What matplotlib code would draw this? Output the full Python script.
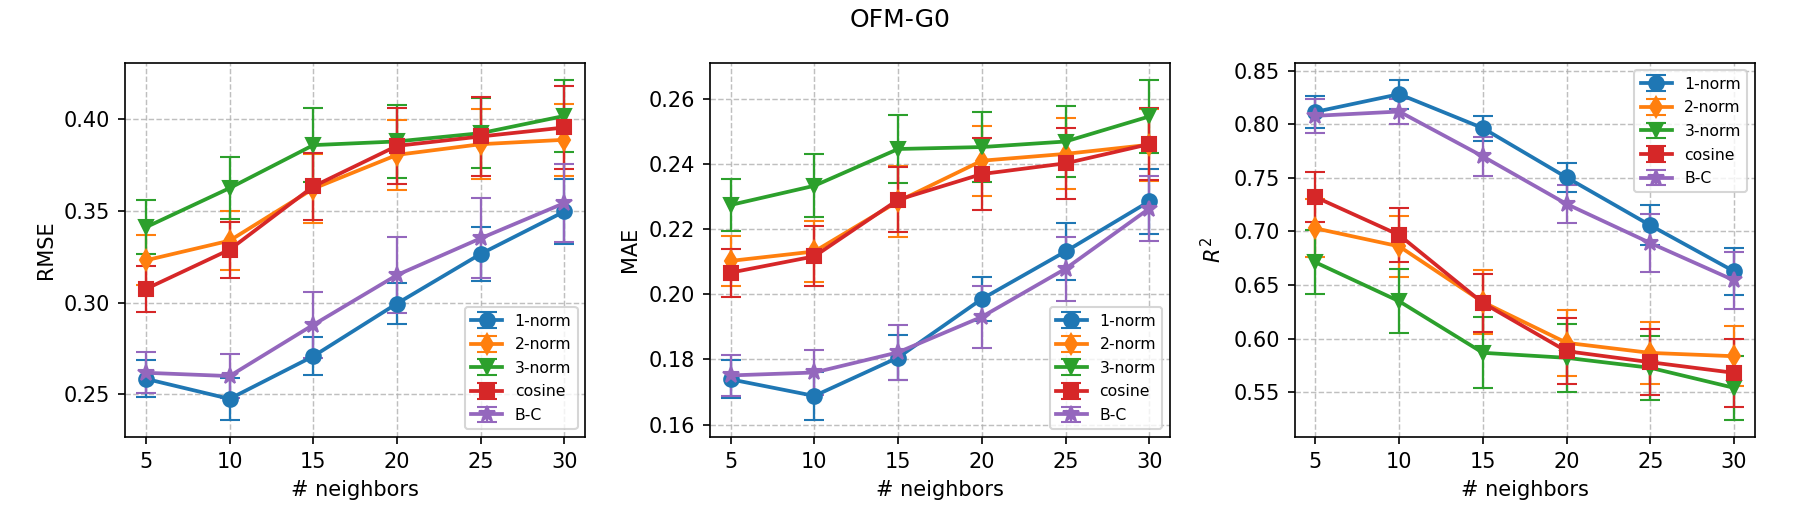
import matplotlib
matplotlib.use("Agg")
import matplotlib.pyplot as plt

# ---- data ----
neighbors = [5, 10, 15, 20, 25, 30]
methods = ["1-norm", "2-norm", "3-norm", "cosine", "B-C"]

rmse_1norm = [0.2585, 0.2476, 0.2708, 0.2995, 0.3265, 0.3496]
rmse_2norm = [0.3230, 0.3337, 0.3620, 0.3804, 0.3862, 0.3886]
rmse_3norm = [0.3410, 0.3623, 0.3857, 0.3877, 0.3922, 0.4016]
rmse_cos = [0.3074, 0.3288, 0.3632, 0.3853, 0.3904, 0.3953]
rmse_bc = [0.2618, 0.2600, 0.2879, 0.3150, 0.3350, 0.3542]
rmse_err_1norm = [0.0100, 0.0115, 0.0104, 0.0112, 0.0148, 0.0177]
rmse_err_2norm = [0.0136, 0.0160, 0.0188, 0.0192, 0.0192, 0.0195]
rmse_err_3norm = [0.0148, 0.0170, 0.0200, 0.0198, 0.0192, 0.0197]
rmse_err_cos = [0.0124, 0.0152, 0.0183, 0.0208, 0.0214, 0.0224]
rmse_err_bc = [0.0111, 0.0120, 0.0180, 0.0206, 0.0217, 0.0214]

mae_1norm = [0.1739, 0.1688, 0.1806, 0.1986, 0.2132, 0.2286]
mae_2norm = [0.2103, 0.2132, 0.2286, 0.2411, 0.2432, 0.2460]
mae_3norm = [0.2275, 0.2334, 0.2447, 0.2453, 0.2470, 0.2547]
mae_cos = [0.2067, 0.2117, 0.2291, 0.2370, 0.2403, 0.2462]
mae_bc = [0.1751, 0.1760, 0.1822, 0.1931, 0.2079, 0.2264]
mae_err_1norm = [0.0058, 0.0074, 0.0068, 0.0068, 0.0088, 0.0099]
mae_err_2norm = [0.0078, 0.0095, 0.0108, 0.0107, 0.0109, 0.0110]
mae_err_3norm = [0.0080, 0.0097, 0.0105, 0.0108, 0.0108, 0.0113]
mae_err_cos = [0.0074, 0.0092, 0.0100, 0.0110, 0.0109, 0.0110]
mae_err_bc = [0.0063, 0.0070, 0.0085, 0.0095, 0.0099, 0.0101]

r2_1norm = [0.8115, 0.8280, 0.7963, 0.7503, 0.7056, 0.6627]
r2_2norm = [0.7028, 0.6860, 0.6340, 0.5960, 0.5866, 0.5835]
r2_3norm = [0.6711, 0.6348, 0.5867, 0.5820, 0.5727, 0.5540]
r2_cos = [0.7320, 0.6966, 0.6332, 0.5882, 0.5779, 0.5680]
r2_bc = [0.8078, 0.8118, 0.7699, 0.7255, 0.6891, 0.6543]
r2_err_1norm = [0.0152, 0.0135, 0.0117, 0.0134, 0.0186, 0.0220]
r2_err_2norm = [0.0270, 0.0285, 0.0295, 0.0310, 0.0290, 0.0280]
r2_err_3norm = [0.0300, 0.0300, 0.0330, 0.0320, 0.0300, 0.0300]
r2_err_cos = [0.0230, 0.0250, 0.0273, 0.0305, 0.0310, 0.0320]
r2_err_bc = [0.0160, 0.0120, 0.0186, 0.0180, 0.0267, 0.0264]

MARKERS = ["o", "d", "v", "s", "*"]
COLORS = ["#1f77b4", "#ff7f0e", "#2ca02c", "#d62728", "#9467bd"]

panels = [
    ("RMSE", [rmse_1norm, rmse_2norm, rmse_3norm, rmse_cos, rmse_bc],
     [rmse_err_1norm, rmse_err_2norm, rmse_err_3norm, rmse_err_cos, rmse_err_bc],
     "lower right"),
    ("MAE", [mae_1norm, mae_2norm, mae_3norm, mae_cos, mae_bc],
     [mae_err_1norm, mae_err_2norm, mae_err_3norm, mae_err_cos, mae_err_bc],
     "lower right"),
    ("$R^2$", [r2_1norm, r2_2norm, r2_3norm, r2_cos, r2_bc],
     [r2_err_1norm, r2_err_2norm, r2_err_3norm, r2_err_cos, r2_err_bc],
     "upper right"),
]

plt.rcParams.update({"font.size": 10})

fig, axs = plt.subplots(1, 3, figsize=(12, 3.5), dpi=150)
fig.subplots_adjust(left=0.0694, right=0.975, bottom=0.1676, top=0.8806, wspace=0.27)

for ax, (ylabel, series, errs, loc) in zip(axs, panels):
    for name, y, e, m, c in zip(methods, series, errs, MARKERS, COLORS):
        ax.errorbar(neighbors, y, yerr=e, marker=m, color=c, label=name,
                    lw=1.8, ms=7 if m != "*" else 8, capsize=5, elinewidth=1.1)
    ax.set_xticks(neighbors)
    ax.set_xlabel("# neighbors")
    ax.set_ylabel(ylabel)
    ax.grid(True, ls="--", alpha=0.8, color="#b0b0b0", lw=0.7)
    ax.legend(loc=loc, fontsize=7.5, labelspacing=0.55)

fig.suptitle("OFM-G0", fontsize=12, y=0.985)
fig.savefig("out.png", dpi=150)
